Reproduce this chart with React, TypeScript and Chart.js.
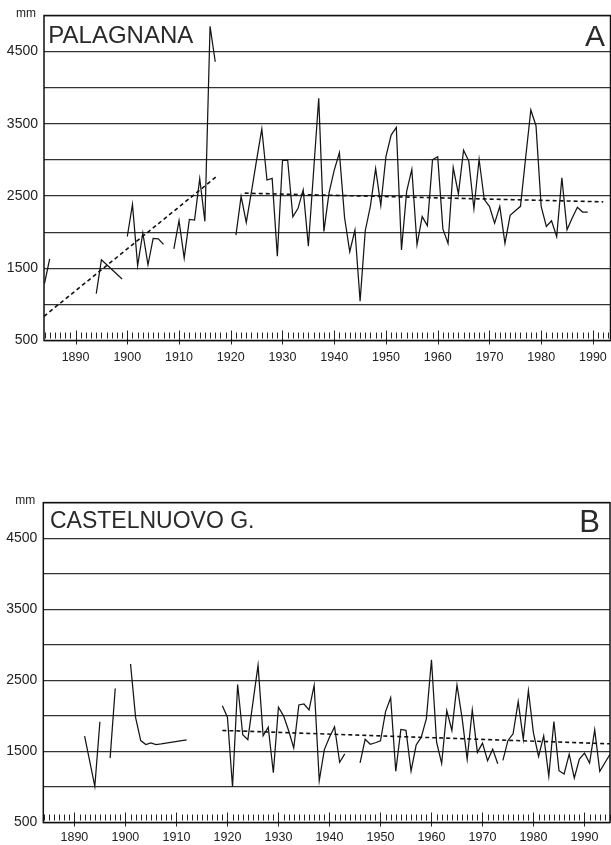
import React, { useEffect, useRef } from 'react';
import { Chart, registerables } from 'chart.js';

Chart.register(...registerables);

// ---------- Data (annual rainfall, mm) ----------
const PALAGNANA_YEARS = [
  1884, 1885,
  1894, 1895, 1899,
  1900, 1901, 1902, 1903, 1904, 1905, 1906, 1907,
  1909, 1910, 1911, 1912, 1913, 1914, 1915, 1916, 1917,
  1921, 1922, 1923, 1924, 1925, 1926, 1927, 1928, 1929, 1930,
  1931, 1932, 1933, 1934, 1935, 1937, 1938, 1939, 1940,
  1941, 1942, 1943, 1944, 1945, 1946, 1947, 1948, 1949, 1950,
  1951, 1952, 1953, 1954, 1955, 1956, 1957, 1958, 1959, 1960,
  1961, 1962, 1963, 1964, 1965, 1966, 1967, 1968, 1969, 1970,
  1971, 1972, 1973, 1974, 1975, 1976, 1977, 1978, 1979, 1980,
  1981, 1982, 1983, 1984, 1985, 1986, 1987, 1988, 1989,
];
const PALAGNANA_MM = [
  1290, 1630,
  1150, 1618, 1352,
  1940, 2385, 1538, 1990, 1548, 1913, 1908, 1830,
  1770, 2160, 1640, 2176, 2167, 2740, 2150, 4850, 4360,
  1960, 2495, 2135, 2560, 3000, 3430, 2722, 2745, 1667, 2995,
  2995, 2213, 2330, 2585, 1806, 3855, 2010, 2548, 2860,
  3100, 2200, 1730, 2030, 1045, 2020, 2365, 2880, 2370, 3050,
  3345, 3450, 1755, 2565, 2870, 1825, 2215, 2090, 3005, 3045,
  2045, 1845, 2895, 2530, 3135, 2986, 2325, 3009, 2451, 2358,
  2125, 2358, 1846, 2232, 2297, 2358, 3032, 3692, 3474, 2358,
  2079, 2158, 1939, 2753, 2032, 2195, 2344, 2279, 2279,
];
const PALAGNANA_BREAKS_AFTER = [1885, 1899, 1907, 1917];
const PALAGNANA_TREND1_YEARS = [1883.9, 1917.5];
const PALAGNANA_TREND1_MM = [835, 2785];
const PALAGNANA_TREND2_YEARS = [1922.7, 1992];
const PALAGNANA_TREND2_MM = [2540, 2420];

const CASTELNUOVO_YEARS = [
  1892, 1894, 1895,
  1897, 1898,
  1901, 1902, 1903, 1904, 1905, 1906, 1907, 1912,
  1919, 1920, 1921, 1922, 1923, 1924, 1925, 1926, 1927, 1928, 1929, 1930,
  1931, 1932, 1933, 1934, 1935, 1936, 1937, 1938, 1939, 1940,
  1941, 1942, 1943,
  1946, 1947, 1948, 1949, 1950,
  1951, 1952, 1953, 1954, 1955, 1956, 1957, 1958, 1959, 1960,
  1961, 1962, 1963, 1964, 1965, 1966, 1967, 1968, 1969, 1970,
  1971, 1972, 1973,
  1974, 1975, 1976, 1977, 1978, 1979, 1980,
  1981, 1982, 1983, 1984, 1985, 1986, 1987, 1988, 1989, 1990,
  1991, 1992, 1993, 1994, 1995,
];
const CASTELNUOVO_MM = [
  1714, 1008, 1918,
  1406, 2386,
  2730, 1975, 1652, 1596, 1620, 1596, 1605, 1662,
  2144, 1981, 1000, 2442, 1735, 1665, 2190, 2711, 1721, 1842, 1200, 2121,
  2000, 1790, 1549, 2153, 2167, 2083, 2430, 1088, 1525, 1700,
  1845, 1347, 1466,
  1340, 1670, 1600, 1622, 1650,
  2060, 2255, 1220, 1810, 1797, 1225, 1590, 1700, 1960, 2790,
  1630, 1330, 2075, 1795, 2435, 1971, 1390, 2083, 1486, 1616,
  1369, 1532, 1327,
  1374, 1654, 1747, 2200, 1672, 2354, 1757,
  1430, 1719, 1149, 1920, 1229, 1182, 1462, 1126, 1392, 1476,
  1336, 1803, 1220, 1340, 1460,
];
const CASTELNUOVO_BREAKS_AFTER = [1895, 1898, 1912, 1943, 1973];
const CASTELNUOVO_TREND_YEARS = [1919, 1995];
const CASTELNUOVO_TREND_MM = [1795, 1607];

const Y_GRID_MM = [500, 1000, 1500, 2000, 2500, 3000, 3500, 4000, 4500, 5000];
const Y_TICK_LABELS = [500, 1500, 2500, 3500, 4500];
const X_TICK_LABELS = [1890, 1900, 1910, 1920, 1930, 1940, 1950, 1960, 1970, 1980, 1990];

const FONT = '"Liberation Sans", Arial, Helvetica, sans-serif';

type Pt = { x: number; y: number };

function splitSegments(years: number[], values: number[], breaks: number[]): Pt[][] {
  const out: Pt[][] = [];
  let cur: Pt[] = [];
  years.forEach((yr, i) => {
    cur.push({ x: yr, y: values[i] });
    if (breaks.includes(yr)) {
      out.push(cur);
      cur = [];
    }
  });
  if (cur.length) out.push(cur);
  return out;
}

function zip(xs: number[], ys: number[]): Pt[] {
  return xs.map((x, i) => ({ x, y: ys[i] }));
}

type PanelCfg = {
  top: number;
  height: number;
  padTop: number;
  xAxisHeight: number;
  yAxisWidth: number;
  padRight: number;
  xMin: number;
  xMax: number;
  xLabelPad: number;
  segments: Pt[][];
  trends: Pt[][];
  title: string;
  titleSize: number;
  titleDx: number;
  titleBase: number;
  letter: string;
  letterSize: number;
  letterDx: number;
  letterBase: number;
};

function Panel({ cfg }: { cfg: PanelCfg }) {
  const ref = useRef<HTMLCanvasElement | null>(null);
  useEffect(() => {
    if (!ref.current) return;
    const datasets: any[] = [];
    cfg.segments.forEach((seg) =>
      datasets.push({
        data: seg,
        borderColor: '#151515',
        borderWidth: 1.25,
        pointRadius: 0,
        tension: 0,
        fill: false,
      })
    );
    cfg.trends.forEach((t) =>
      datasets.push({
        data: t,
        borderColor: '#111',
        borderWidth: 1.6,
        borderDash: [4, 3],
        pointRadius: 0,
        fill: false,
      })
    );

    const decor = {
      id: 'decor',
      afterDraw(chart: any) {
        const { ctx, chartArea } = chart;
        const { left, top, right, bottom } = chartArea;
        const x = chart.scales.x;
        ctx.save();
        // year tick marks
        ctx.strokeStyle = '#222';
        ctx.lineWidth = 1;
        for (let yr = Math.ceil(x.min); yr <= Math.floor(x.max); yr++) {
          const px = Math.round(x.getPixelForValue(yr)) + 0.5;
          const major = yr % 10 === 0;
          ctx.beginPath();
          ctx.moveTo(px, major ? bottom + 4 : bottom - 2);
          ctx.lineTo(px, major ? bottom - 10 : bottom - 8);
          ctx.stroke();
        }
        // frame
        ctx.strokeStyle = '#111';
        ctx.lineWidth = 1.5;
        ctx.strokeRect(left, top, right - left, bottom - top);
        // unit
        ctx.fillStyle = '#222';
        ctx.font = `12px ${FONT}`;
        ctx.textAlign = 'right';
        ctx.textBaseline = 'alphabetic';
        ctx.fillText('mm', left - 8, top + 1.5);
        // station title
        ctx.fillStyle = '#2a2a2a';
        ctx.font = `${cfg.titleSize}px ${FONT}`;
        ctx.textAlign = 'left';
        ctx.fillText(cfg.title, left + cfg.titleDx, top + cfg.titleBase);
        // panel letter
        ctx.font = `${cfg.letterSize}px ${FONT}`;
        ctx.textAlign = 'right';
        ctx.fillText(cfg.letter, right - cfg.letterDx, top + cfg.letterBase);
        ctx.restore();
      },
    };

    const zeroPad = (s: any) => {
      s.paddingLeft = 0;
      s.paddingRight = 0;
      s.paddingTop = 0;
      s.paddingBottom = 0;
    };

    const chart = new Chart(ref.current, {
      type: 'line',
      data: { datasets },
      plugins: [decor],
      options: {
        animation: false,
        responsive: true,
        maintainAspectRatio: false,
        parsing: false as any,
        layout: { padding: { top: cfg.padTop, right: cfg.padRight, left: 0, bottom: 0 } },
        plugins: { legend: { display: false }, tooltip: { enabled: false }, title: { display: false } },
        scales: {
          x: {
            type: 'linear',
            min: cfg.xMin,
            max: cfg.xMax,
            afterBuildTicks: (s: any) => {
              s.ticks = X_TICK_LABELS.map((v) => ({ value: v }));
            },
            afterFit: (s: any) => {
              s.height = cfg.xAxisHeight;
              zeroPad(s);
            },
            ticks: {
              autoSkip: false,
              maxRotation: 0,
              padding: cfg.xLabelPad,
              color: '#222',
              font: { family: FONT, size: 12.5 },
              callback: (v: any) => String(v),
            },
            grid: { display: false, drawTicks: false },
            border: { display: false },
          },
          y: {
            type: 'linear',
            min: 500,
            max: 5000,
            afterBuildTicks: (s: any) => {
              s.ticks = Y_GRID_MM.map((v) => ({ value: v }));
            },
            afterFit: (s: any) => {
              s.width = cfg.yAxisWidth;
              zeroPad(s);
            },
            ticks: {
              padding: 6,
              color: '#222',
              font: { family: FONT, size: 14 },
              callback: (v: any) => (Y_TICK_LABELS.includes(Number(v)) ? String(v) : ''),
            },
            grid: { color: '#333', lineWidth: 1.2, drawTicks: false },
            border: { display: false },
          },
        },
      },
    });
    return () => chart.destroy();
  }, [cfg]);

  return (
    <div
      style={{ position: 'absolute', left: 0, top: cfg.top, width: 611, height: cfg.height }}
    >
      <canvas ref={ref} />
    </div>
  );
}

const PANEL_A: PanelCfg = {
  top: 0,
  height: 372,
  padTop: 15.5,
  xAxisHeight: 31.5,
  yAxisWidth: 44,
  padRight: 0.5,
  xMin: 1883.9,
  xMax: 1993.4,
  xLabelPad: 10,
  segments: splitSegments(PALAGNANA_YEARS, PALAGNANA_MM, PALAGNANA_BREAKS_AFTER),
  trends: [
    zip(PALAGNANA_TREND1_YEARS, PALAGNANA_TREND1_MM),
    zip(PALAGNANA_TREND2_YEARS, PALAGNANA_TREND2_MM),
  ],
  title: 'PALAGNANA',
  titleSize: 24,
  titleDx: 4.3,
  titleBase: 27.2,
  letter: 'A',
  letterSize: 30,
  letterDx: 5.5,
  letterBase: 30.2,
};

const PANEL_B: PanelCfg = {
  top: 480,
  height: 365,
  padTop: 22.6,
  xAxisHeight: 22.5,
  yAxisWidth: 43.3,
  padRight: 1,
  xMin: 1883.9,
  xMax: 1995.0,
  xLabelPad: 8,
  segments: splitSegments(CASTELNUOVO_YEARS, CASTELNUOVO_MM, CASTELNUOVO_BREAKS_AFTER),
  trends: [zip(CASTELNUOVO_TREND_YEARS, CASTELNUOVO_TREND_MM)],
  title: 'CASTELNUOVO G.',
  titleSize: 23,
  titleDx: 6.7,
  titleBase: 25.7,
  letter: 'B',
  letterSize: 31,
  letterDx: 10,
  letterBase: 29.7,
};

export default function App() {
  return (
    <div style={{ position: 'absolute', left: 0, top: 0, width: 611, height: 845, background: '#fff' }}>
      <Panel cfg={PANEL_A} />
      <Panel cfg={PANEL_B} />
    </div>
  );
}
